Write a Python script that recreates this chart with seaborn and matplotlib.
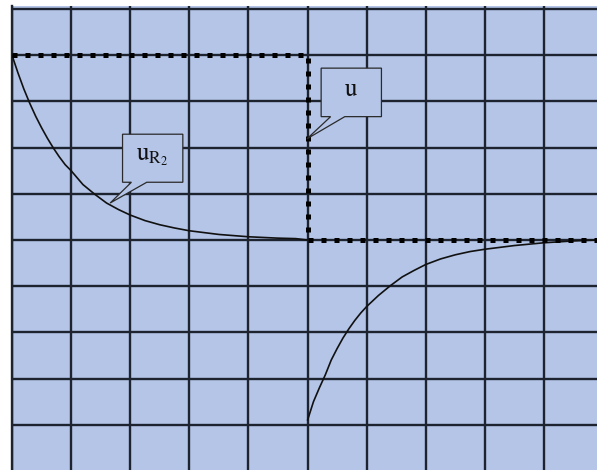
import numpy as np
import matplotlib
matplotlib.use('Agg')
import matplotlib.pyplot as plt
import seaborn as sns
from matplotlib.patches import Polygon

# ==========================================
# 0. 数据
# ==========================================
# 电源电压 u：0~5 为 4，5 之后为 0
u_t = [0, 5, 5, 9.9]
u_v = [4, 4, 0, 0]

# 电阻电压 u_R2：第一段
r1_t = [0, 0.1, 0.2, 0.3, 0.4, 0.5, 0.6, 0.7, 0.8, 0.9, 1.0, 1.2, 1.4, 1.6, 1.8,
        2.0, 2.25, 2.5, 2.75, 3.0, 3.5, 4.0, 4.5, 4.8, 5.0]
r1_v = [4.0, 3.62, 3.27, 2.96, 2.68, 2.43, 2.2, 1.99, 1.8, 1.63, 1.5, 1.2, 0.99, 0.8, 0.66,
        0.54, 0.42, 0.33, 0.26, 0.2, 0.12, 0.07, 0.04, 0.03, 0.0]

# 电阻电压 u_R2：第二段
r2_t = [5.0, 5.1, 5.2, 5.3, 5.4, 5.5, 5.6, 5.7, 5.8, 5.9, 6.0, 6.2, 6.4, 6.6, 6.8,
        7.0, 7.25, 7.5, 7.75, 8.0, 8.5, 9.0, 9.5, 9.9]
r2_v = [-3.9, -3.5, -3.2, -2.92, -2.6, -2.35, -2.12, -1.92, -1.74, -1.58, -1.44, -1.2, -0.99, -0.8, -0.66,
        -0.53, -0.41, -0.32, -0.25, -0.2, -0.12, -0.06, -0.02, 0.0]

labels = ['u', r'$\mathrm{u}_{\mathrm{R}_2}$']

# ==========================================
# 1. 样式
# ==========================================
sns.set_theme(style="white")
plt.rcParams['mathtext.fontset'] = 'stix'
plt.rcParams['font.family'] = ['STIXGeneral', 'DejaVu Serif']

bg = '#b4c5e7'
grid_c = '#1e2330'

fig = plt.figure(figsize=(5.97, 4.70), dpi=100)
fig.patch.set_facecolor('white')
ax = fig.add_axes([12 / 597, 0, 585 / 597, 464 / 470])
ax.set_facecolor(bg)

# 网格：每格 1 个单位
ax.set_xlim(0, 585 / 59.11)
ax.set_ylim(-230 / 46.2, 234 / 46.2)
ax.set_xticks(np.arange(0, 10))
ax.set_yticks(np.arange(-4, 6))
ax.grid(True, color=grid_c, linewidth=1.7)
ax.set_axisbelow(True)
ax.tick_params(length=0, labelbottom=False, labelleft=False)
for s in ['top', 'right', 'bottom']:
    ax.spines[s].set_visible(False)
ax.spines['left'].set_color(grid_c)
ax.spines['left'].set_linewidth(1.7)

# ==========================================
# 2. 曲线
# ==========================================
sns.lineplot(x=r1_t, y=r1_v, ax=ax, color='#111111', linewidth=1.2, estimator=None, sort=False)
sns.lineplot(x=r2_t, y=r2_v, ax=ax, color='#111111', linewidth=1.2, estimator=None, sort=False)
sns.lineplot(x=u_t, y=u_v, ax=ax, color='black', estimator=None, sort=False)
u_line = ax.lines[-1]
u_line.set_linewidth(3.6)
u_line.set_linestyle((0, (1, 1.6)))
u_line.set_dash_capstyle('butt')
u_line.set_solid_joinstyle('miter')
for ln in ax.lines:
    ln.set_zorder(3)


# ==========================================
# 3. 标注框（带尖角的气泡）
# ==========================================
def callout(x0, x1, y0, y1, b0, b1, tip, text):
    verts = [(x0, y1), (x1, y1), (x1, y0), (b1, y0), tip, (b0, y0), (x0, y0)]
    ax.add_patch(Polygon(verts, closed=True, fc=bg, ec='#2a2a2a', lw=0.9, zorder=5))
    ax.text((x0 + x1) / 2, (y0 + y1) / 2 + 0.05, text, ha='center', va='center',
            fontsize=18, color='#111111', zorder=6)


callout(5.23, 6.25, 2.67, 3.72, 5.39, 5.63, (4.99, 2.19), labels[0])
callout(1.87, 2.89, 1.25, 2.29, 2.02, 2.28, (1.66, 0.80), labels[1])

fig.savefig('out.png', dpi=100)
plt.close()
